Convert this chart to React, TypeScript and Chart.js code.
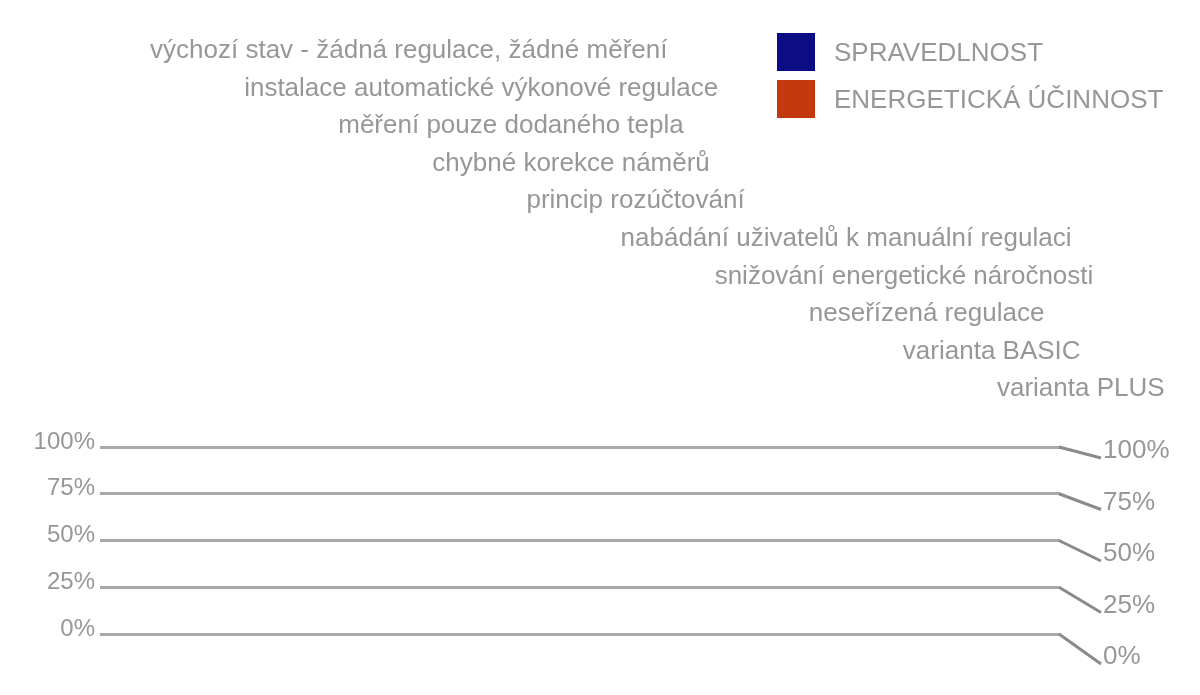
import React, { useEffect, useRef } from 'react';
import { Chart, registerables } from 'chart.js';

Chart.register(...registerables);

// ---- data ----
const categories: string[] = [
  'výchozí stav - žádná regulace, žádné měření',
  'instalace automatické výkonové regulace',
  'měření pouze dodaného tepla',
  'chybné korekce náměrů',
  'princip rozúčtování',
  'nabádání uživatelů k manuální regulaci',
  'snižování energetické náročnosti',
  'neseřízená regulace',
  'varianta BASIC',
  'varianta PLUS',
];
const seriesNames: string[] = ['SPRAVEDLNOST', 'ENERGETICKÁ ÚČINNOST'];
const seriesColors: string[] = ['#0c0c84', '#c4380e'];
const spravedlnostValues: number[] = [0, 0, 0, 0, 0, 0, 0, 0, 0, 0];
const ucinnostValues: number[] = [0, 0, 0, 0, 0, 0, 0, 0, 0, 0];
const percentTicks: number[] = [0, 25, 50, 75, 100];

// ---- styles ----
const FONT = '"Liberation Sans", Arial, Helvetica, sans-serif';
const TEXT = '#979797';
const GRID = '#a9a9a9';
const CONNECTOR = '#8a8a8a';

const perspectivePlugin = {
  id: 'perspective',
  afterLayout(chart: any) {
    const a = chart.chartArea;
    const back = chart.scales.yBack;
    if (back) {
      back.top = a.top + 4;
      back.bottom = a.bottom + 23;
      back.height = back.bottom - back.top;
      back.configure();
    }
    const depth = chart.scales.xDepth;
    if (depth) {
      depth.left = a.left + 3;
      depth.right = a.right - 16;
      depth.width = depth.right - depth.left;
      depth.configure();
    }
  },
  afterDraw(chart: any) {
    const { ctx, chartArea: a } = chart;
    const y = chart.scales.y;
    const back = chart.scales.yBack;
    ctx.save();
    ctx.strokeStyle = CONNECTOR;
    ctx.lineWidth = 3;
    ctx.lineCap = 'butt';
    percentTicks.forEach((v) => {
      ctx.beginPath();
      ctx.moveTo(a.right - 1, y.getPixelForValue(v));
      ctx.lineTo(a.right + 41, back.getPixelForValue(v) + 7);
      ctx.stroke();
    });
    ctx.restore();
  },
};

function ChartCanvas() {
  const ref = useRef<HTMLCanvasElement | null>(null);
  useEffect(() => {
    if (!ref.current) return;
    const chart = new Chart(ref.current, {
      type: 'bar',
      data: {
        labels: categories,
        datasets: [
          { label: seriesNames[0], data: spravedlnostValues, backgroundColor: seriesColors[0], xAxisID: 'x', yAxisID: 'y' },
          { label: seriesNames[1], data: ucinnostValues, backgroundColor: seriesColors[1], xAxisID: 'x', yAxisID: 'y' },
        ],
      },
      options: {
        animation: false,
        responsive: true,
        maintainAspectRatio: false,
        layout: { padding: { top: 0, bottom: 61, left: 0, right: 0 } },
        plugins: { legend: { display: false }, tooltip: { enabled: false } },
        scales: {
          x: { display: false },
          xDepth: {
            type: 'category',
            axis: 'x',
            position: 'top',
            labels: categories,
            offset: true,
            grid: { display: false, drawTicks: false },
            border: { display: false },
            ticks: {
              autoSkip: false,
              maxRotation: 0,
              minRotation: 0,
              align: 'start',
              padding: 39,
              color: TEXT,
              font: { family: FONT, size: 26, lineHeight: 1.446 },
              callback: (_v: any, i: number) => [
                categories[i],
                ...categories.slice(i + 1).map(() => ''),
              ],
            },
            afterFit: (s: any) => {
              s.height = 447;
              s.paddingLeft = 0;
              s.paddingRight = 0;
            },
          },
          y: {
            position: 'left',
            min: 0,
            max: 100,
            grid: { color: GRID, lineWidth: 3, drawTicks: false },
            border: { display: false },
            ticks: {
              padding: 5,
              labelOffset: -5,
              color: TEXT,
              font: { family: FONT, size: 24 },
              callback: (v: any) => v + '%',
            },
            afterBuildTicks: (s: any) => {
              s.ticks = percentTicks.map((v) => ({ value: v }));
            },
            afterFit: (s: any) => {
              s.width = 100;
            },
          },
          yBack: {
            type: 'linear',
            axis: 'y',
            position: 'right',
            min: 0,
            max: 100,
            grid: { display: false, drawTicks: false },
            border: { display: false },
            ticks: {
              padding: 43,
              color: TEXT,
              font: { family: FONT, size: 26 },
              callback: (v: any) => v + '%',
            },
            afterBuildTicks: (s: any) => {
              s.ticks = percentTicks.map((v) => ({ value: v }));
            },
            afterFit: (s: any) => {
              s.width = 140;
            },
          },
        },
      } as any,
      plugins: [perspectivePlugin],
    });
    return () => chart.destroy();
  }, []);
  return <canvas ref={ref} />;
}

export default function App() {
  return (
    <div style={{ position: 'fixed', left: 0, top: 0, width: 1200, height: 695, background: '#ffffff', overflow: 'hidden' }}>
      <div style={{ position: 'absolute', left: 0, top: 0, width: 1200, height: 695 }}>
        <ChartCanvas />
      </div>
      <div style={{ position: 'absolute', left: 777, top: 33, fontFamily: FONT, fontSize: 26, color: TEXT }}>
        {seriesNames.map((name, i) => (
          <div key={name} style={{ display: 'flex', alignItems: 'center', height: 38, marginBottom: 9 }}>
            <span style={{ display: 'inline-block', width: 38, height: 38, background: seriesColors[i], marginRight: 19 }} />
            <span style={{ lineHeight: '38px', whiteSpace: 'nowrap' }}>{name}</span>
          </div>
        ))}
      </div>
    </div>
  );
}
